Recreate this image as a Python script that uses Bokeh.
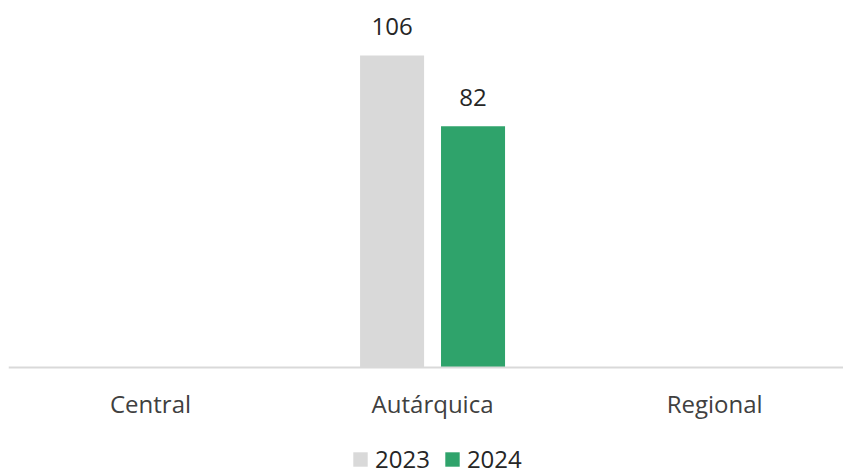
from bokeh.plotting import figure
from bokeh.models import Range1d, ColumnDataSource, Legend, LegendItem, Span
from bokeh.core.properties import value
from bokeh.embed import file_html
from bokeh.resources import INLINE

categories = ["Central", "Autárquica", "Regional"]
years = ["2023", "2024"]
values_2023 = [0, 106, 0]
values_2024 = [0, 82, 0]
colors = ["#d9d9d9", "#2fa36b"]

FONT = "Open Sans"
xs = [i + 0.5 for i in range(len(categories))]
offset = 0.1435
bw = 0.227

p = figure(width=843, height=475, output_backend="svg", toolbar_location=None,
           x_range=Range1d(-0.0035, 2.957), y_range=Range1d(-36.7, 124.7),
           min_border_left=8, min_border_right=0, min_border_top=0, min_border_bottom=0)
p.xaxis.visible = False
p.yaxis.visible = False
p.xgrid.visible = False
p.ygrid.visible = False
p.outline_line_color = None

# baseline (category axis line)
p.add_layout(Span(location=0, dimension="width", line_color="#d9d9d9", line_width=2))

renderers = []
for k, (vals, col) in enumerate(zip([values_2023, values_2024], colors)):
    d = -offset if k == 0 else offset
    src = ColumnDataSource(dict(x=[x + d for x in xs], top=vals))
    r = p.vbar(x="x", top="top", bottom=0, width=bw, source=src, color=col, line_color=None)
    renderers.append(r)
    lab = [(x + d, v, str(v)) for x, v in zip(xs, vals) if v]
    lsrc = ColumnDataSource(dict(x=[a for a, _, _ in lab], y=[b for _, b, _ in lab], t=[c for _, _, c in lab]))
    p.text(x="x", y="y", text="t", source=lsrc, text_align="center", text_baseline="alphabetic",
           y_offset=-29, text_font=value(FONT), text_font_size="24px", text_color="#262626")

# category labels
csrc = ColumnDataSource(dict(x=xs, y=[0] * len(xs), t=categories))
p.text(x="x", y="y", text="t", source=csrc, text_align="center", text_baseline="alphabetic",
       y_offset=36, text_font=value(FONT), text_font_size="24px", text_color="#404040")

legend = Legend(items=[LegendItem(label=y, renderers=[r]) for y, r in zip(years, renderers)],
                orientation="horizontal", location=(343, 0))
legend.label_text_font = FONT
legend.label_text_font_size = "24px"
legend.label_text_color = "#262626"
legend.glyph_width = 18
legend.glyph_height = 18
legend.label_standoff = 6
legend.spacing = 13
legend.padding = 0
legend.margin = 0
legend.border_line_color = None
legend.background_fill_alpha = 0
p.add_layout(legend, "center")

open("out.html", "w").write(file_html(p, INLINE))
